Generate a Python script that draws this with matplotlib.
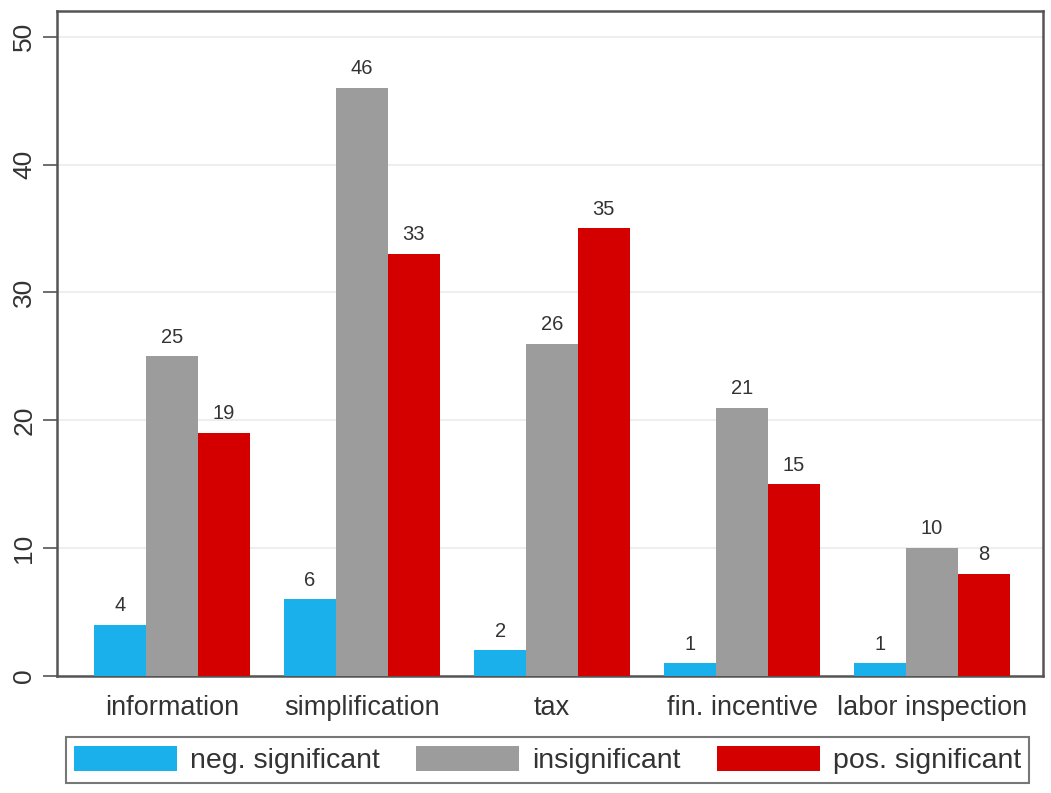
import numpy as np
import matplotlib.pyplot as plt

# categories and counts
categories = ['information', 'simplification', 'tax', 'fin. incentive', 'labor inspection']
neg_sig = [4, 6, 2, 1, 1]
insig = [25, 46, 26, 21, 10]
pos_sig = [19, 33, 35, 15, 8]
series_names = ['neg. significant', 'insignificant', 'pos. significant']
yticks = [0, 10, 20, 30, 40, 50]

plt.rcParams['font.family'] = ['Liberation Sans', 'DejaVu Sans']

fig = plt.figure(figsize=(10.51, 7.93), dpi=100)
ax = fig.add_axes([0.0542, 0.1475, 0.9382, 0.8385])

x = np.arange(len(categories))
w = 0.273
colors = ['#1ab0ec', '#9c9c9c', '#d40000']
for i, (vals, name) in enumerate(zip([neg_sig, insig, pos_sig], series_names)):
    bars = ax.bar(x + (i - 1) * w, vals, width=w, color=colors[i], label=name, zorder=3)
    for b, v in zip(bars, vals):
        ax.annotate(str(v), (b.get_x() + b.get_width() / 2, v), xytext=(0, 7),
                    textcoords='offset points', ha='center', va='bottom',
                    fontsize=14.5, color='#333333')

ax.set_xlim(-0.605, 4.584)
ax.set_ylim(0, 52)
ax.set_yticks(yticks)
ax.set_yticklabels([str(t) for t in yticks], rotation=90, va='center', fontsize=19, color='#333333')
ax.set_xticks(x)
ax.set_xticklabels(categories, fontsize=19.5, color='#333333')
ax.tick_params(axis='x', length=0, pad=14)
ax.tick_params(axis='y', length=10, width=1.2, color='#555555', pad=5)
ax.yaxis.grid(True, color='#eeeeee', linewidth=1.5, zorder=0)
for s in ax.spines.values():
    s.set_color('#555555')
    s.set_linewidth(1.8)

leg = fig.legend(loc='lower center', bbox_to_anchor=(0.521, 0.006), ncol=3, fontsize=20.5,
                 frameon=True, fancybox=False, edgecolor='#555555', handlelength=3.6,
                 handleheight=1.0, handletextpad=0.45, columnspacing=1.3, borderpad=0.3,
                 borderaxespad=0.2)
leg.get_frame().set_linewidth(1.5)
for t in leg.get_texts():
    t.set_color('#333333')

fig.savefig('out.png', dpi=100)
